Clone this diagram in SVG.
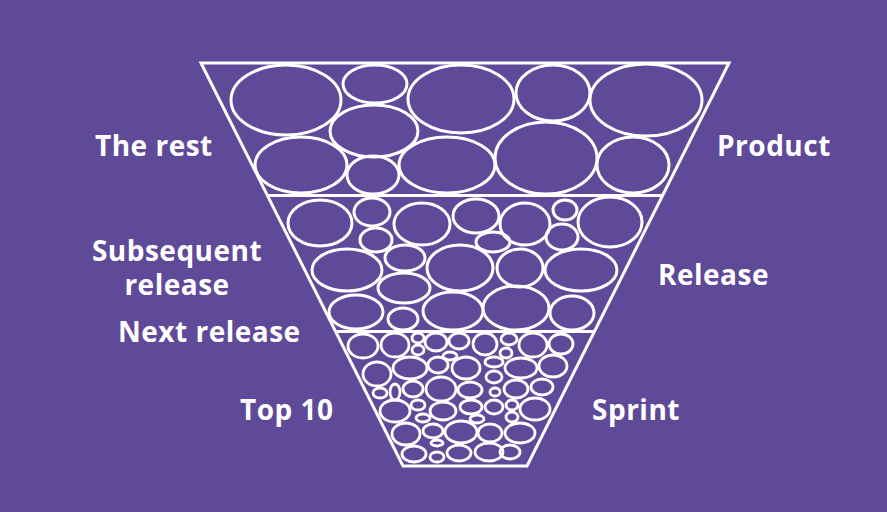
<svg xmlns="http://www.w3.org/2000/svg" width="887" height="512" viewBox="0 0 887 512">
<defs>
<style>
.bg{fill:#5f4a9a}
.frame{fill:none;stroke:#fff;stroke-width:3;stroke-linejoin:miter}
.div{stroke:#fff;stroke-width:3}
.b ellipse{fill:none;stroke:#fff;stroke-width:3}
.s ellipse{fill:none;stroke:#fff;stroke-width:2.8}
.lbl{fill:#fff;font-family:"Open Sans","Liberation Sans",sans-serif;font-weight:700;font-size:28px;letter-spacing:0.5px}
</style>
<clipPath id="clipFunnel"><polygon points="201,63 729,63 527,466 403,466"/></clipPath>
</defs>
<rect class="bg" x="0" y="0" width="887" height="512"/>

<g id="funnel-balls" clip-path="url(#clipFunnel)">
<g id="product-items" class="b">
<ellipse cx="286" cy="100" rx="55" ry="35"/>
<ellipse cx="375" cy="84" rx="32" ry="19"/>
<ellipse cx="461" cy="99" rx="53" ry="34"/>
<ellipse cx="553" cy="93" rx="37" ry="28"/>
<ellipse cx="646" cy="100" rx="56" ry="36"/>
<ellipse cx="374" cy="131" rx="44" ry="26"/>
<ellipse cx="301" cy="165" rx="46" ry="28"/>
<ellipse cx="373" cy="175" rx="26" ry="19"/>
<ellipse cx="447" cy="165" rx="48" ry="28"/>
<ellipse cx="546" cy="158" rx="51" ry="36"/>
<ellipse cx="633" cy="165" rx="36" ry="28"/>
</g>
<g id="release-items" class="b">
<ellipse cx="320" cy="223" rx="32" ry="23"/>
<ellipse cx="372" cy="212" rx="18" ry="14"/>
<ellipse cx="422" cy="224" rx="28" ry="21"/>
<ellipse cx="476" cy="216" rx="23" ry="17"/>
<ellipse cx="525" cy="224" rx="25" ry="21"/>
<ellipse cx="565" cy="210" rx="12" ry="10"/>
<ellipse cx="610" cy="222" rx="32" ry="25"/>
<ellipse cx="376" cy="240" rx="16" ry="12"/>
<ellipse cx="493" cy="242" rx="17" ry="10"/>
<ellipse cx="562" cy="237" rx="16" ry="13"/>
<ellipse cx="347" cy="270" rx="35" ry="21"/>
<ellipse cx="405" cy="258" rx="20" ry="13"/>
<ellipse cx="460" cy="268" rx="33" ry="23"/>
<ellipse cx="520" cy="268" rx="23" ry="19"/>
<ellipse cx="581" cy="270" rx="36" ry="21"/>
<ellipse cx="404" cy="288" rx="26" ry="15"/>
<ellipse cx="356" cy="312" rx="27" ry="17"/>
<ellipse cx="403" cy="319" rx="15" ry="11"/>
<ellipse cx="453" cy="311" rx="30" ry="19"/>
<ellipse cx="516" cy="308" rx="33" ry="22"/>
<ellipse cx="572" cy="313" rx="22" ry="17"/>
</g>
<g id="sprint-items" class="s">
<ellipse cx="363" cy="346" rx="15" ry="12"/>
<ellipse cx="395" cy="345" rx="14" ry="12"/>
<ellipse cx="418" cy="338" rx="6" ry="5"/>
<ellipse cx="436" cy="342" rx="11" ry="9"/>
<ellipse cx="459" cy="341" rx="10" ry="8"/>
<ellipse cx="485" cy="344" rx="12" ry="11"/>
<ellipse cx="509" cy="339" rx="8" ry="6"/>
<ellipse cx="533" cy="345" rx="14" ry="12"/>
<ellipse cx="561" cy="344" rx="12" ry="10"/>
<ellipse cx="418" cy="350" rx="6" ry="5"/>
<ellipse cx="450" cy="356" rx="7" ry="4"/>
<ellipse cx="506" cy="353" rx="6" ry="5"/>
<ellipse cx="377" cy="374" rx="14" ry="12"/>
<ellipse cx="410" cy="368" rx="17" ry="11"/>
<ellipse cx="438" cy="365" rx="10" ry="8"/>
<ellipse cx="466" cy="368" rx="14" ry="11"/>
<ellipse cx="494" cy="362" rx="9" ry="5"/>
<ellipse cx="521" cy="368" rx="16" ry="10"/>
<ellipse cx="553" cy="366" rx="14" ry="11"/>
<ellipse cx="380" cy="393" rx="7" ry="5"/>
<ellipse cx="395" cy="392" rx="5" ry="8"/>
<ellipse cx="413" cy="389" rx="10" ry="8"/>
<ellipse cx="441" cy="389" rx="15" ry="12"/>
<ellipse cx="470" cy="390" rx="12" ry="8"/>
<ellipse cx="494" cy="377" rx="8" ry="6"/>
<ellipse cx="495" cy="392" rx="5" ry="4"/>
<ellipse cx="516" cy="389" rx="12" ry="9"/>
<ellipse cx="542" cy="387" rx="11" ry="8"/>
<ellipse cx="395" cy="411" rx="15" ry="11"/>
<ellipse cx="418" cy="405" rx="7" ry="5"/>
<ellipse cx="423" cy="418" rx="7" ry="4"/>
<ellipse cx="443" cy="411" rx="13" ry="9"/>
<ellipse cx="471" cy="407" rx="11" ry="7"/>
<ellipse cx="477" cy="419" rx="7" ry="4"/>
<ellipse cx="494" cy="407" rx="9" ry="7"/>
<ellipse cx="512" cy="405" rx="6" ry="5"/>
<ellipse cx="512" cy="417" rx="6" ry="5"/>
<ellipse cx="535" cy="409" rx="15" ry="11"/>
<ellipse cx="406" cy="434" rx="14" ry="11"/>
<ellipse cx="433" cy="431" rx="10" ry="7"/>
<ellipse cx="461" cy="432" rx="16" ry="11"/>
<ellipse cx="490" cy="433" rx="12" ry="9"/>
<ellipse cx="520" cy="433" rx="15" ry="10"/>
<ellipse cx="437" cy="443" rx="6" ry="3"/>
<ellipse cx="414" cy="454" rx="12" ry="8"/>
<ellipse cx="437" cy="457" rx="7" ry="5"/>
<ellipse cx="459" cy="453" rx="12" ry="8"/>
<ellipse cx="489" cy="452" rx="14" ry="9"/>
<ellipse cx="510" cy="452" rx="10" ry="7"/>
</g>
</g>

<g id="funnel-frame">
<polygon class="frame" points="201,63 729,63 527,466 403,466"/>
<line class="div" x1="268" y1="195.5" x2="662" y2="195.5"/>
<line class="div" x1="336" y1="331.5" x2="594" y2="331.5"/>
</g>

<g id="labels">
<text class="lbl" x="95" y="156">The rest</text>
<text class="lbl" x="717" y="156">Product</text>
<text class="lbl" x="177" y="261" text-anchor="middle">Subsequent</text>
<text class="lbl" x="177" y="295" text-anchor="middle">release</text>
<text class="lbl" x="658" y="285">Release</text>
<text class="lbl" x="118" y="342">Next release</text>
<text class="lbl" x="240" y="420">Top 10</text>
<text class="lbl" x="592" y="420">Sprint</text>
</g>
</svg>
